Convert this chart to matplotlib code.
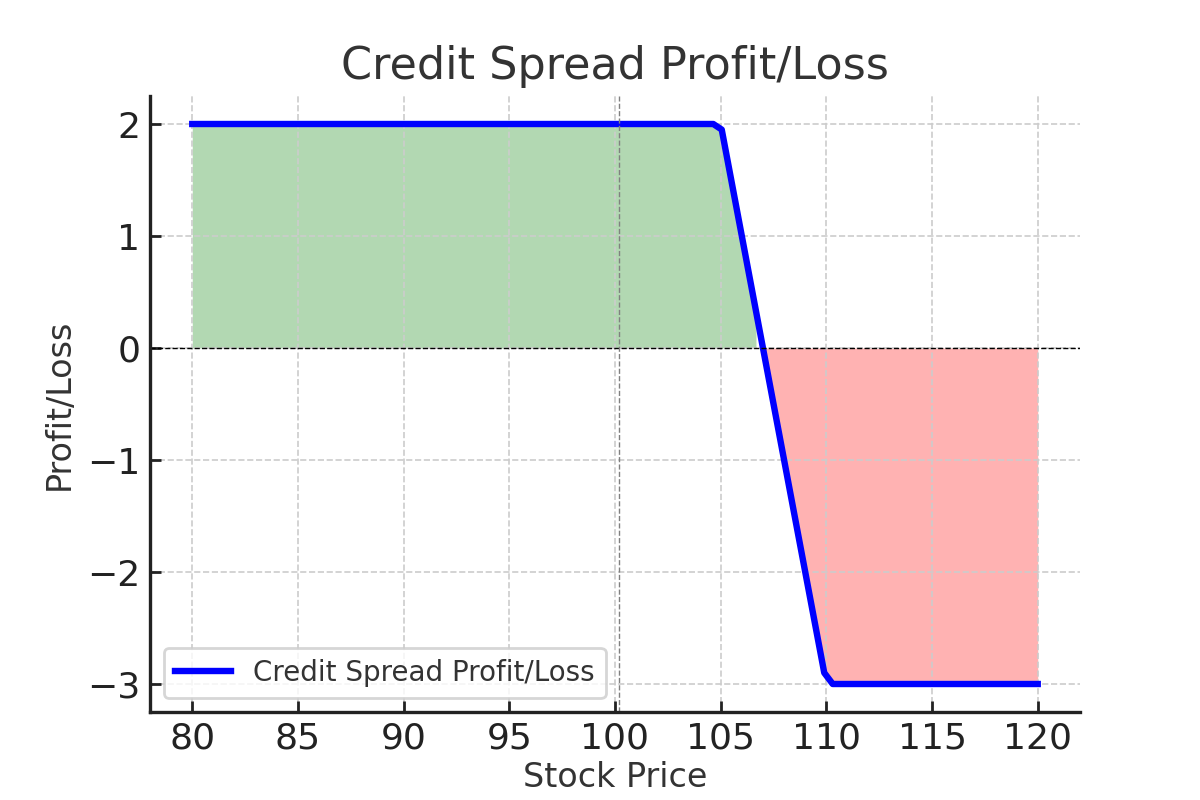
import matplotlib
matplotlib.use("Agg")
import matplotlib.pyplot as plt
import numpy as np

# key points of the payoff curve
prices = [80.0, 104.65, 105.05, 106.67, 107.07, 109.90, 110.30, 120.0]
pnl = [2.0, 2.0, 1.95, 0.33, -0.07, -2.90, -3.0, -3.0]
current_price = 100.2

x = np.array(prices)
y = np.array(pnl)

plt.rcParams["font.family"] = ["DejaVu Sans"]
plt.rcParams["text.color"] = "#333333"
plt.rcParams["axes.labelcolor"] = "#333333"

fig, ax = plt.subplots(figsize=(6, 4), dpi=200)

ax.plot(x, y, color="blue", linewidth=2.3, label="Credit Spread Profit/Loss")
ax.fill_between(x, y, 0, where=(y >= 0), color="green", alpha=0.3, linewidth=0)
ax.fill_between(x, y, 0, where=(y < 0), color="red", alpha=0.3, linewidth=0)
ax.axhline(0, color="black", linewidth=0.5, linestyle="--")
ax.axvline(current_price, color="grey", linewidth=0.5, linestyle="--")

ax.set_title("Credit Spread Profit/Loss", fontsize=16)
ax.set_xlabel("Stock Price", fontsize=12, labelpad=2)
ax.set_ylabel("Profit/Loss", fontsize=12)
ax.tick_params(labelsize=13, direction="in", length=4, width=1,
               color="#222222", labelcolor="#222222")
ax.set_xticks([80, 85, 90, 95, 100, 105, 110, 115, 120])
ax.set_yticks([-3, -2, -1, 0, 1, 2])

ax.grid(True, linestyle="--", color="#cccccc", linewidth=0.6)
ax.spines["top"].set_visible(False)
ax.spines["right"].set_visible(False)
for side in ["left", "bottom"]:
    ax.spines[side].set_linewidth(1.2)
    ax.spines[side].set_color("#222222")

ax.legend(loc="lower left", fontsize=10)

fig.savefig("out.png")
